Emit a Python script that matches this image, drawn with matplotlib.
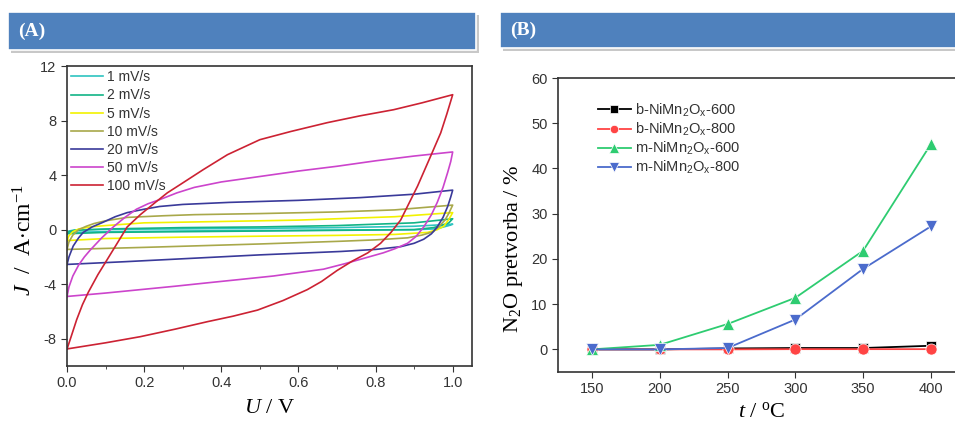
import matplotlib.pyplot as plt
from matplotlib.patches import Rectangle

plt.rcParams['font.family'] = 'Liberation Sans'
plt.rcParams['mathtext.fontset'] = 'custom'
plt.rcParams['mathtext.rm'] = 'Liberation Serif'
plt.rcParams['mathtext.it'] = 'Liberation Serif:italic'
plt.rcParams['mathtext.sf'] = 'Liberation Sans'

# (A) cyclic voltammetry: forward branch then reverse branch
scan_labels = ['1 mV/s', '2 mV/s', '5 mV/s', '10 mV/s', '20 mV/s', '50 mV/s', '100 mV/s']
scan_colors = ['#2ec4c0', '#12b486', '#f2f200', '#a8a84a', '#3a3a9a', '#cc44cc', '#cc2233']

U_1 = [0.0, 0.005, 0.02, 0.1, 0.3, 0.5, 0.7, 0.9, 1.0,
       0.99, 0.97, 0.95, 0.9, 0.7, 0.5, 0.3, 0.1, 0.0]
J_1 = [-0.2, -0.1, -0.02, 0.02, 0.06, 0.1, 0.15, 0.25, 0.4,
       0.3, 0.15, 0.05, -0.0, -0.03, -0.06, -0.1, -0.15, -0.2]
U_2 = [0.0, 0.005, 0.02, 0.1, 0.3, 0.5, 0.7, 0.9, 1.0,
       0.99, 0.97, 0.95, 0.9, 0.7, 0.5, 0.3, 0.1, 0.0]
J_2 = [-0.3, -0.15, -0.05, 0.05, 0.15, 0.2, 0.3, 0.5, 0.8,
       0.5, 0.3, 0.15, 0.0, -0.05, -0.1, -0.15, -0.2, -0.3]
U_5 = [0.0, 0.005, 0.015, 0.03, 0.06, 0.1, 0.2, 0.4, 0.6, 0.85, 1.0,
       0.99, 0.977, 0.96, 0.935, 0.85, 0.7, 0.5, 0.3, 0.1, 0.0]
J_5 = [-0.8, -0.45, -0.15, 0.05, 0.2, 0.3, 0.5, 0.6, 0.7, 0.95, 1.25,
       0.75, 0.25, 0.0, -0.2, -0.35, -0.42, -0.48, -0.55, -0.65, -0.8]
U_10 = [0.0, 0.005, 0.015, 0.03, 0.05, 0.07, 0.1, 0.156, 0.25, 0.33, 0.5, 0.7, 0.85, 1.0,
        0.99, 0.98, 0.965, 0.95, 0.92, 0.883, 0.8, 0.71, 0.5, 0.2, 0.0]
J_10 = [-1.45, -0.9, -0.4, 0.0, 0.25, 0.45, 0.65, 0.9, 1.02, 1.1, 1.18, 1.3, 1.45, 1.8,
        1.2, 0.7, 0.25, -0.15, -0.4, -0.6, -0.75, -0.85, -1.05, -1.3, -1.45]
U_20 = [0.0, 0.005, 0.016, 0.03, 0.042, 0.065, 0.094, 0.125, 0.156, 0.2, 0.24, 0.3, 0.42, 0.6, 0.76, 0.9, 1.0,
        0.995, 0.987, 0.975, 0.96, 0.945, 0.925, 0.9, 0.865, 0.8, 0.71, 0.5, 0.36, 0.15, 0.0]
J_20 = [-2.55, -2.0, -1.2, -0.6, -0.2, 0.2, 0.55, 0.95, 1.25, 1.5, 1.7, 1.85, 2.0, 2.15, 2.35, 2.6, 2.9,
        2.4, 1.7, 0.9, 0.2, -0.3, -0.7, -1.0, -1.25, -1.45, -1.6, -1.85, -2.05, -2.35, -2.55]
U_50 = [0.0, 0.005, 0.015, 0.03, 0.045, 0.06, 0.09, 0.12, 0.15, 0.18, 0.21, 0.24, 0.285, 0.33, 0.4,
        0.5, 0.6, 0.7, 0.8, 0.9, 1.0,
        0.995, 0.987, 0.975, 0.96, 0.945, 0.925, 0.905, 0.883, 0.85, 0.82, 0.77, 0.72, 0.665,
        0.6, 0.535, 0.45, 0.364, 0.28, 0.19, 0.1, 0.0]
J_50 = [-4.9, -4.2, -3.4, -2.6, -2.0, -1.5, -0.6, 0.2, 0.9, 1.5, 1.9, 2.2, 2.7, 3.1, 3.5,
        3.9, 4.3, 4.65, 5.05, 5.4, 5.7,
        5.0, 4.2, 3.1, 2.0, 1.1, 0.2, -0.5, -1.0, -1.4, -1.7, -2.1, -2.5, -2.9,
        -3.15, -3.4, -3.65, -3.9, -4.15, -4.4, -4.65, -4.9]
U_100 = [0.0, 0.01, 0.025, 0.04, 0.055, 0.08, 0.104, 0.13, 0.156, 0.19, 0.229, 0.26, 0.293, 0.353,
         0.416, 0.5, 0.58, 0.675, 0.76, 0.847, 0.92, 1.0,
         0.985, 0.969, 0.943, 0.909, 0.865, 0.84, 0.813, 0.78, 0.74, 0.7, 0.66, 0.623, 0.56,
         0.494, 0.43, 0.364, 0.28, 0.19, 0.1, 0.0]
J_100 = [-8.75, -7.9, -6.6, -5.5, -4.6, -3.3, -2.2, -1.0, 0.2, 1.1, 2.0, 2.7, 3.3, 4.4,
         5.5, 6.6, 7.2, 7.85, 8.35, 8.8, 9.3, 9.9,
         8.5, 7.1, 5.4, 3.2, 0.7, -0.2, -1.0, -1.7, -2.3, -3.0, -3.8, -4.4, -5.2,
         -5.9, -6.35, -6.75, -7.3, -7.85, -8.3, -8.75]
cv_U = [U_1, U_2, U_5, U_10, U_20, U_50, U_100]
cv_J = [J_1, J_2, J_5, J_10, J_20, J_50, J_100]

# (B) N2O conversion
t_C = [150, 200, 250, 300, 350, 400]
b600 = [0.0, 0.0, 0.2, 0.3, 0.3, 0.8]
b800 = [0.0, 0.0, 0.0, 0.05, 0.05, 0.05]
m600 = [0.0, 1.0, 5.6, 11.4, 21.8, 45.4]
m800 = [0.0, 0.0, 0.3, 6.6, 17.8, 27.2]
b_labels = ['b-NiMn$_\\mathsf{2}$O$_\\mathsf{x}$-600', 'b-NiMn$_\\mathsf{2}$O$_\\mathsf{x}$-800',
            'm-NiMn$_\\mathsf{2}$O$_\\mathsf{x}$-600', 'm-NiMn$_\\mathsf{2}$O$_\\mathsf{x}$-800']

fig = plt.figure(figsize=(9.55, 4.23), dpi=100)

# header bars
for x0, w, y0, h, txt in [(0.0084, 0.490, 0.8818, 0.0898, '(A)'),
                          (0.5236, 0.480, 0.8865, 0.0851, '(B)')]:
    fig.patches.append(Rectangle((x0 + 0.003, y0 - 0.008), w, h, transform=fig.transFigure,
                                 facecolor='#c8c8c8', edgecolor='none', zorder=0))
    fig.patches.append(Rectangle((x0, y0), w, h, transform=fig.transFigure,
                                 facecolor='#4f81bd', edgecolor='white', linewidth=1.2, zorder=1))
    fig.text(x0 + 0.011, y0 + h / 2, txt, color='white', fontsize=14, fontweight='bold',
             family='Liberation Serif', va='center', ha='left', zorder=2)

tick_kw = dict(direction='out', labelsize=10.5, labelcolor='#333333', colors='#333333')

# panel A
ax1 = fig.add_axes([0.0702, 0.1348, 0.424, 0.709])
for u, j, lab, c in zip(cv_U, cv_J, scan_labels, scan_colors):
    ax1.plot(u, j, color=c, lw=1.2, label=lab)
ax1.set_xlim(0, 1.05)
ax1.set_ylim(-10, 12)
ax1.set_xticks([0.0, 0.2, 0.4, 0.6, 0.8, 1.0])
ax1.set_xticks([0.1, 0.3, 0.5, 0.7, 0.9], minor=True)
ax1.set_yticks([-8, -4, 0, 4, 8, 12])
ax1.set_yticklabels(['-8', '-4', '0', '4', '8', '12'])
ax1.tick_params(which='both', **tick_kw)
ax1.tick_params(which='major', length=4)
ax1.tick_params(which='minor', length=2.5)
for s in ax1.spines.values():
    s.set_linewidth(1.2)
    s.set_color('#333333')
ax1.set_xlabel('$\\mathit{U}$ / V', fontsize=16, labelpad=6, family='Liberation Serif')
ax1.set_ylabel('$\\mathit{J}$  /  A$\\cdot$cm$^{-1}$', fontsize=17, family='Liberation Serif')
ax1.yaxis.set_label_coords(-0.075, 0.42)
ax1.legend(loc='upper left', frameon=False, fontsize=10, handlelength=2.3,
           labelspacing=0.3, borderaxespad=0.1, borderpad=0.2, handletextpad=0.3,
           labelcolor='#333333')

# panel B
ax2 = fig.add_axes([0.5843, 0.1206, 0.426, 0.695])
ax2.plot(t_C, b600, color='black', marker='s', ms=7, mec='white', mew=0.5, lw=1.3, label=b_labels[0])
ax2.plot(t_C, b800, color='#ff4444', marker='o', ms=8, mec='white', mew=0.5, lw=1.3, label=b_labels[1])
ax2.plot(t_C, m600, color='#2ecc71', marker='^', ms=9, mec='white', mew=0.5, lw=1.3, label=b_labels[2])
ax2.plot(t_C, m800, color='#4b6bcc', marker='v', ms=9, mec='white', mew=0.5, lw=1.3, label=b_labels[3])
ax2.set_xlim(125, 425)
ax2.set_ylim(-5, 60)
ax2.set_xticks(t_C)
ax2.set_yticks([0, 10, 20, 30, 40, 50, 60])
ax2.tick_params(which='both', length=4, **tick_kw)
for s in ax2.spines.values():
    s.set_linewidth(1.2)
    s.set_color('#333333')
ax2.set_xlabel('$\\mathit{t}$ / $^{\\rm o}$C', fontsize=16, labelpad=4, family='Liberation Serif')
ax2.set_ylabel('N$_2$O pretvorba / %', fontsize=16, family='Liberation Serif')
ax2.yaxis.set_label_coords(-0.082, 0.42)
ax2.legend(loc='upper left', bbox_to_anchor=(0.09, 0.93), frameon=False, fontsize=10.5,
           handlelength=2.3, markerscale=0.75, labelspacing=0.15, handletextpad=0.3,
           borderaxespad=0, borderpad=0.2, labelcolor='#333333')

fig.savefig('out.png', dpi=100)
